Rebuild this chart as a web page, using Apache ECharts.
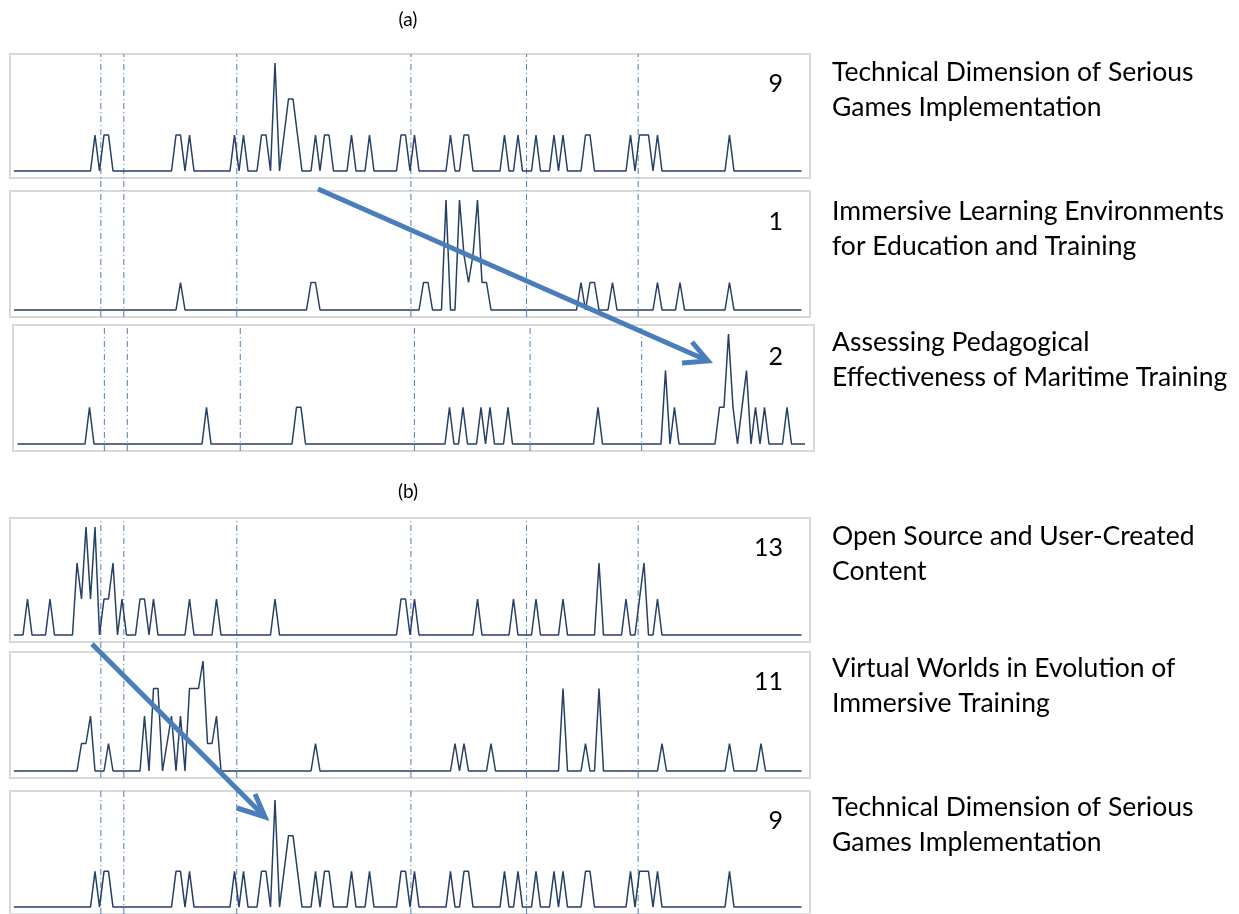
<!DOCTYPE html>
<html><head><meta charset="utf-8">
<script src="https://cdn.jsdelivr.net/npm/echarts@6/dist/echarts.min.js"></script>
<style>html,body{margin:0;padding:0;background:#fff}#c{width:1239px;height:914px}</style>
</head><body><div id="c"></div>
<script>
// ---- DATA: monthly counts, only non-zero months listed as [month, count] ----
const monthCount = 176;
const techDimension = [[18,1],[20,1],[21,1],[36,1],[37,1],[39,1],[49,1],[51,1],[55,1],[56,1],[58,3],[60,1],[61,2],[62,2],[63,1],[67,1],[69,1],[70,1],[75,1],[79,1],[86,1],[87,1],[89,1],[97,1],[100,1],[101,1],[109,1],[112,1],[116,1],[120,1],[122,1],[127,1],[128,1],[137,1],[139,1],[140,1],[141,1],[143,1],[159,1]];
const immersiveLearning = [[37,1],[66,1],[67,1],[91,1],[92,1],[96,4],[99,4],[100,2],[101,1],[102,2],[103,4],[104,1],[105,1],[126,1],[128,1],[129,1],[133,1],[143,1],[148,1],[159,1]];
const pedagogicalEffect = [[16,1],[42,1],[62,1],[63,1],[96,1],[99,1],[103,1],[105,1],[109,1],[129,1],[144,2],[146,1],[156,1],[157,1],[158,3],[159,1],[161,1],[162,2],[164,1],[166,1],[171,1]];
const openSourceContent = [[3,1],[8,1],[14,2],[15,1],[16,3],[17,1],[18,3],[20,1],[21,1],[22,2],[24,1],[28,1],[29,1],[31,1],[39,1],[45,1],[58,1],[86,1],[87,1],[89,1],[103,1],[111,1],[116,1],[122,1],[130,2],[136,1],[139,1],[140,2],[143,1]];
const virtualWorlds = [[15,1],[16,1],[17,2],[21,1],[29,2],[31,3],[32,3],[34,1],[35,2],[37,2],[39,3],[40,3],[41,3],[42,4],[43,1],[44,1],[45,2],[67,1],[98,1],[100,1],[106,1],[122,3],[127,1],[130,3],[144,1],[159,1],[166,1]];
const eventMarks = [19.3, 24.4, 49.5, 88.2, 113.9, 138.7];
const clusterIds = ['9', '1', '2', '13', '11', '9'];
const clusterNames = [
  ['Technical Dimension of Serious', 'Games Implementation'],
  ['Immersive Learning Environments', 'for Education and Training'],
  ['Assessing Pedagogical', 'Effectiveness of Maritime Training'],
  ['Open Source and User-Created', 'Content'],
  ['Virtual Worlds in Evolution of', 'Immersive Training'],
  ['Technical Dimension of Serious', 'Games Implementation']
];
const sectionLabels = ['(a)', '(b)'];

// ---- LAYOUT ----
const PX_PER_MONTH = 4.5;
const panelSeries = [techDimension, immersiveLearning, pedagogicalEffect, openSourceContent, virtualWorlds, techDimension];
const boxes = [
  {l:10, t:54,  w:800, h:124, o:14},
  {l:10, t:191, w:800, h:126, o:14},
  {l:13, t:325, w:801, h:126, o:17.5},
  {l:10, t:518, w:800, h:124, o:14},
  {l:10, t:652, w:800, h:126, o:14},
  {l:10, t:791, w:800, h:124, o:14}
];
const dashGroups = [
  {l:10, t:54,  w:800, h:263, o:14},
  {l:13, t:325, w:801, h:126, o:17.5},
  {l:10, t:518, w:800, h:260, o:14},
  {l:10, t:791, w:800, h:124, o:14}
];
const numPos = [[783,84],[783,222],[783,357],[783,548],[783,682],[783,821]];
const labelPos = [[832,72],[832,211],[832,342],[832,536],[832,668],[832,807]];
const LINE_GAP = 35;

function fullSeries(sparse){
  const m = new Map(sparse);
  const out = [];
  for (let k = 0; k < monthCount; k++) out.push([k, m.has(k) ? m.get(k) : 0]);
  return out;
}

const grids = [], xAxes = [], yAxes = [], series = [];
boxes.forEach((b, i) => {
  const data = fullSeries(panelSeries[i]);
  const M = Math.max(...data.map(d => d[1]));
  const span = b.h - 16;
  grids.push({left:b.l, top:b.t, width:b.w, height:b.h, show:true, borderColor:'#d9d9d9', borderWidth:2, backgroundColor:'#fff'});
  xAxes.push({type:'value', gridIndex:i, min:(b.l - b.o)/PX_PER_MONTH, max:(b.l + b.w - b.o)/PX_PER_MONTH, show:false});
  yAxes.push({type:'value', gridIndex:i, min:-7/span*M, max:M + 9/span*M, show:false});
  series.push({type:'line', xAxisIndex:i, yAxisIndex:i, data, symbol:'none', showSymbol:false, z:3,
    lineStyle:{color:'#253f66', width:1.5}, animation:false});
});
dashGroups.forEach((g, j) => {
  const i = boxes.length + j;
  grids.push({left:g.l, top:g.t, width:g.w, height:g.h, show:false});
  xAxes.push({type:'value', gridIndex:i, min:(g.l - g.o)/PX_PER_MONTH, max:(g.l + g.w - g.o)/PX_PER_MONTH, show:false});
  yAxes.push({type:'value', gridIndex:i, min:0, max:1, show:false});
  eventMarks.forEach(v => {
    series.push({type:'line', xAxisIndex:i, yAxisIndex:i, data:[[v, 0], [v, 1]], symbol:'none', z:2,
      silent:true, animation:false,
      lineStyle:{color:'#4a7ebb', width:1, type:[6,3,1,3]}});
  });
});

const FONT = 'Lato, "Open Sans", sans-serif';
const graphic = [];
graphic.push({type:'text', x:408, y:20, style:{text:sectionLabels[0], font:'19px ' + FONT, fill:'#000', align:'center', verticalAlign:'middle'}, z:10});
graphic.push({type:'text', x:408, y:492, style:{text:sectionLabels[1], font:'19px ' + FONT, fill:'#000', align:'center', verticalAlign:'middle'}, z:10});
clusterIds.forEach((t, i) => {
  graphic.push({type:'text', x:numPos[i][0], y:numPos[i][1], z:10,
    style:{text:t, font:'25px ' + FONT, fill:'#000', align:'right', verticalAlign:'middle'}});
});
clusterNames.forEach((lines, i) => {
  lines.forEach((s, j) => {
    graphic.push({type:'text', x:labelPos[i][0], y:labelPos[i][1] + j*LINE_GAP, z:10,
      style:{text:s, font:'26.5px ' + FONT, fill:'#000', align:'left', verticalAlign:'middle'}});
  });
});
const ARROW = {stroke:'#4a7ebb', lineWidth:5, lineCap:'butt', lineJoin:'miter'};
graphic.push({type:'line', z:20, shape:{x1:318, y1:189, x2:706, y2:360}, style:ARROW});
graphic.push({type:'polyline', z:20, shape:{points:[[692,342],[708,361],[682,363]]}, style:Object.assign({fill:null}, ARROW)});
graphic.push({type:'line', z:20, shape:{x1:92, y1:644, x2:263, y2:815}, style:ARROW});
graphic.push({type:'polyline', z:20, shape:{points:[[255,794],[265,817],[237,808]]}, style:Object.assign({fill:null}, ARROW)});

const chart = echarts.init(document.getElementById('c'), null, {renderer:'canvas'});
chart.setOption({animation:false, backgroundColor:'#fff', grid:grids, xAxis:xAxes, yAxis:yAxes, series, graphic});
</script></body></html>
